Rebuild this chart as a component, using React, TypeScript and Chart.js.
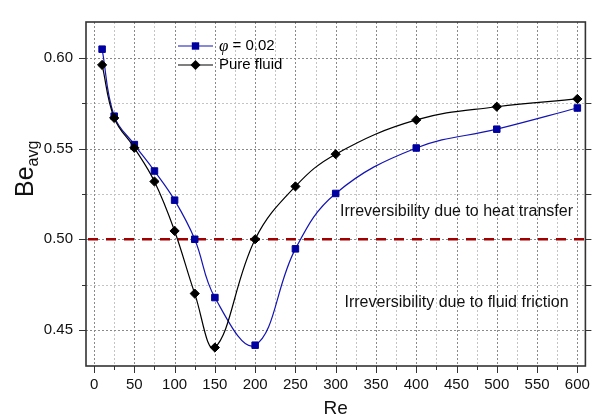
import React, { useEffect, useRef } from 'react';
import { Chart, registerables } from 'chart.js';

Chart.register(...registerables);

// ---- data ----
const reValues = [10, 25, 50, 75, 100, 125, 150, 200, 250, 300, 400, 500, 600];
const phiBe = [0.605, 0.568, 0.5523, 0.5377, 0.5216, 0.5, 0.4678, 0.4415, 0.4947, 0.5253, 0.5504, 0.5608, 0.5725];
const pureBe = [0.5963, 0.567, 0.5505, 0.5319, 0.5046, 0.47, 0.4402, 0.5, 0.5292, 0.547, 0.5659, 0.5732, 0.5775];
const xTickValues = [0, 50, 100, 150, 200, 250, 300, 350, 400, 450, 500, 550, 600];
const yTickValues = [0.45, 0.5, 0.55, 0.6];
const thresholdBe = 0.5;
const phiSymbol = 'φ';
const phiLabelRest = ' = 0.02';
const pureLabel = 'Pure fluid';
const heatLabel = 'Irreversibility due to heat transfer';
const frictionLabel = 'Irreversibility due to fluid friction';
const xTitle = 'Re';
const yTitleMain = 'Be';
const yTitleSub = 'avg';

const FONT = '"Liberation Sans", Arial, Helvetica, sans-serif';
const BLUE_LINE = '#1414b4';
const BLUE_MARK = '#0000a0';
const BLACK = '#000000';
const RED = '#a00000';

const mids = (arr: number[]) => arr.slice(1).map((v, i) => (v + arr[i]) / 2);

const decorPlugin = {
  id: 'decor',
  beforeDatasetsDraw(chart: any) {
    const { ctx, chartArea: a, scales } = chart;
    const x = scales.x;
    const y = scales.y;
    ctx.save();
    const vLine = (v: number, color: string, dash: number[]) => {
      const px = Math.round(x.getPixelForValue(v)) + 0.5;
      ctx.strokeStyle = color;
      ctx.setLineDash(dash);
      ctx.lineWidth = 1;
      ctx.beginPath();
      ctx.moveTo(px, a.top);
      ctx.lineTo(px, a.bottom);
      ctx.stroke();
    };
    const hLine = (v: number, color: string, dash: number[]) => {
      const py = Math.round(y.getPixelForValue(v)) + 0.5;
      ctx.strokeStyle = color;
      ctx.setLineDash(dash);
      ctx.lineWidth = 1;
      ctx.beginPath();
      ctx.moveTo(a.left, py);
      ctx.lineTo(a.right, py);
      ctx.stroke();
    };
    mids(xTickValues).forEach((v) => vLine(v, '#c4c4c4', [2, 2]));
    mids(yTickValues).forEach((v) => hLine(v, '#c4c4c4', [2, 2]));
    xTickValues.forEach((v) => vLine(v, '#8a8a8a', [2, 2]));
    yTickValues.forEach((v) => hLine(v, '#8a8a8a', [2, 2]));

    // threshold line
    const ty = y.getPixelForValue(thresholdBe);
    ctx.strokeStyle = RED;
    ctx.lineWidth = 2.5;
    ctx.setLineDash([10, 8]);
    ctx.beginPath();
    ctx.moveTo(a.left + 2, ty);
    ctx.lineTo(a.right, ty);
    ctx.stroke();
    ctx.restore();
  },
  afterDraw(chart: any) {
    const { ctx, chartArea: a, scales } = chart;
    const x = scales.x;
    const y = scales.y;
    ctx.save();
    ctx.setLineDash([]);

    // tick marks
    ctx.strokeStyle = '#333';
    ctx.lineWidth = 1;
    const xt = (v: number, len: number) => {
      const px = Math.round(x.getPixelForValue(v)) + 0.5;
      ctx.beginPath();
      ctx.moveTo(px, a.bottom);
      ctx.lineTo(px, a.bottom + len);
      ctx.stroke();
    };
    const yt = (v: number, len: number) => {
      const py = Math.round(y.getPixelForValue(v)) + 0.5;
      ctx.beginPath();
      ctx.moveTo(a.left - len, py);
      ctx.lineTo(a.left, py);
      ctx.moveTo(a.right, py);
      ctx.lineTo(a.right + 6, py);
      ctx.stroke();
    };
    xTickValues.forEach((v) => xt(v, 7));
    mids(xTickValues).forEach((v) => xt(v, 4));
    yTickValues.forEach((v) => yt(v, 7));
    mids(yTickValues).forEach((v) => yt(v, 4));

    // frame
    ctx.strokeStyle = '#333';
    ctx.lineWidth = 1.6;
    ctx.strokeRect(a.left, a.top, a.right - a.left, a.bottom - a.top);

    // region annotations
    ctx.fillStyle = '#111';
    ctx.font = `16px ${FONT}`;
    ctx.textAlign = 'center';
    ctx.textBaseline = 'middle';
    const cx = x.getPixelForValue(450);
    ctx.fillText(heatLabel, cx, y.getPixelForValue(0.5155));
    ctx.fillText(frictionLabel, cx, y.getPixelForValue(0.465));

    // axis titles
    ctx.fillStyle = '#111';
    ctx.font = `19px ${FONT}`;
    ctx.textAlign = 'center';
    ctx.textBaseline = 'alphabetic';
    ctx.fillText(xTitle, (a.left + a.right) / 2, 414);

    ctx.save();
    ctx.translate(33, 197);
    ctx.rotate(-Math.PI / 2);
    ctx.textAlign = 'left';
    ctx.font = `25px ${FONT}`;
    ctx.fillText(yTitleMain, 0, 0);
    const w = ctx.measureText(yTitleMain).width;
    ctx.font = `16px ${FONT}`;
    ctx.fillText(yTitleSub, w, 5);
    ctx.restore();

    // legend
    const lx0 = a.left + 92;
    const lx1 = a.left + 127;
    const mx = (lx0 + lx1) / 2;
    const rows = [a.top + 24, a.top + 43];
    // row 1: phi
    ctx.strokeStyle = BLUE_LINE;
    ctx.lineWidth = 1.2;
    ctx.beginPath();
    ctx.moveTo(lx0, rows[0]);
    ctx.lineTo(lx1, rows[0]);
    ctx.stroke();
    ctx.fillStyle = BLUE_MARK;
    ctx.fillRect(mx - 3.7, rows[0] - 3.7, 7.4, 7.4);
    // row 2: pure
    ctx.strokeStyle = BLACK;
    ctx.beginPath();
    ctx.moveTo(lx0, rows[1]);
    ctx.lineTo(lx1, rows[1]);
    ctx.stroke();
    ctx.fillStyle = BLACK;
    ctx.beginPath();
    ctx.moveTo(mx - 5, rows[1]);
    ctx.lineTo(mx, rows[1] - 5);
    ctx.lineTo(mx + 5, rows[1]);
    ctx.lineTo(mx, rows[1] + 5);
    ctx.closePath();
    ctx.fill();

    ctx.fillStyle = '#000';
    ctx.textAlign = 'left';
    ctx.textBaseline = 'middle';
    const tx = lx1 + 6;
    ctx.font = `italic 17px "Liberation Serif", "DejaVu Serif", serif`;
    ctx.fillText(phiSymbol, tx, rows[0] + 1);
    const pw = ctx.measureText(phiSymbol).width;
    ctx.font = `15px ${FONT}`;
    ctx.fillText(phiLabelRest, tx + pw, rows[0]);
    ctx.fillText(pureLabel, tx, rows[1]);

    ctx.restore();
  },
};

export default function App() {
  const ref = useRef<HTMLCanvasElement | null>(null);

  useEffect(() => {
    document.body.style.margin = '0';
    const canvas = ref.current;
    if (!canvas) return;
    const chart = new Chart(canvas, {
      type: 'line',
      data: {
        datasets: [
          {
            label: phiSymbol + phiLabelRest,
            data: reValues.map((r, i) => ({ x: r, y: phiBe[i] })),
            borderColor: BLUE_LINE,
            borderWidth: 1.2,
            backgroundColor: BLUE_MARK,
            pointStyle: 'rect',
            pointRadius: 4.6,
            pointBorderWidth: 1,
            pointBorderColor: BLUE_MARK,
            pointBackgroundColor: BLUE_MARK,
            tension: 0.4,
            fill: false,
            order: 1,
          },
          {
            label: pureLabel,
            data: reValues.map((r, i) => ({ x: r, y: pureBe[i] })),
            borderColor: BLACK,
            borderWidth: 1.2,
            backgroundColor: BLACK,
            pointStyle: 'rectRot',
            pointRadius: 4.6,
            pointBorderWidth: 1,
            pointBorderColor: BLACK,
            pointBackgroundColor: BLACK,
            tension: 0.4,
            fill: false,
            order: 0,
          },
        ],
      },
      options: {
        responsive: false,
        animation: false,
        devicePixelRatio: 1,
        layout: { padding: { left: 0, top: 10, right: 9, bottom: 0 } },
        plugins: {
          legend: { display: false },
          tooltip: { enabled: false },
        },
        scales: {
          x: {
            type: 'linear',
            min: -10,
            max: 610,
            afterBuildTicks: (s: any) => {
              s.ticks = xTickValues.map((v) => ({ value: v }));
            },
            afterFit: (s: any) => {
              s.height = 50;
            },
            grid: { display: false, drawTicks: false },
            border: { display: false },
            ticks: {
              font: { family: FONT, size: 15 },
              color: '#111',
              padding: 10,
              maxRotation: 0,
              autoSkip: false,
              callback: (v: any) => String(v),
            },
          },
          y: {
            type: 'linear',
            min: 0.43,
            max: 0.62,
            afterBuildTicks: (s: any) => {
              s.ticks = yTickValues.map((v) => ({ value: v }));
            },
            afterFit: (s: any) => {
              s.width = 86;
            },
            grid: { display: false, drawTicks: false },
            border: { display: false },
            ticks: {
              font: { family: FONT, size: 15 },
              color: '#111',
              padding: 13,
              autoSkip: false,
              callback: (v: any) => Number(v).toFixed(2),
            },
          },
        },
      },
      plugins: [decorPlugin],
    } as any);
    return () => chart.destroy();
  }, []);

  return (
    <div style={{ width: 600, height: 416, background: '#fff' }}>
      <canvas ref={ref} width={600} height={416} style={{ display: 'block' }} />
    </div>
  );
}
